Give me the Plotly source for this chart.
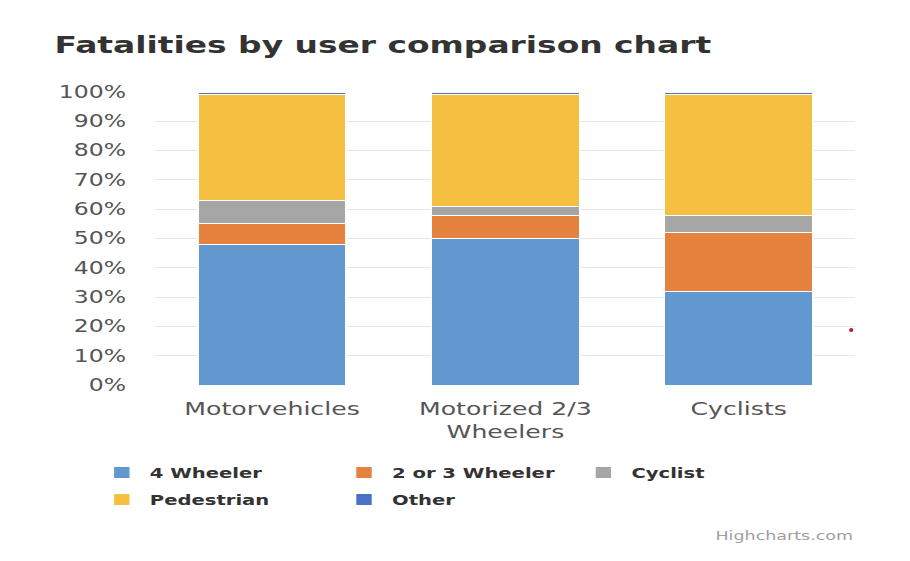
import plotly.graph_objects as go

# Fatality shares (%) by road-user group, per vehicle category
categories = ["Motorvehicles", "Motorized 2/3<br>Wheelers", "Cyclists"]
four_wheeler = [48, 50, 32]
two_three_wheeler = [7, 8, 20]
cyclist = [8, 3, 6]
pedestrian = [36, 38, 41]
other = [1, 1, 1]
y_ticks = list(range(0, 101, 10))
y_tick_labels = [f"{v}%" for v in y_ticks]

FONT = "DejaVu Sans"
W, H = 650, 561
M_L, M_R, M_T, M_B = 111, 39, 92, 176
STRETCH = 1.4  # horizontal stretch applied to the rendered chart
PLOT_W = W - M_L - M_R
PLOT_H = H - M_T - M_B


def paper_x(px):
    """Convert a pixel column (unstretched) into paper x."""
    return (px - M_L) / PLOT_W


def paper_y(px):
    """Convert a pixel row (from top of figure) into paper y."""
    return (H - M_B - px) / PLOT_H


# name, values, colour, legend id, legend column x (px), legend row y (px)
series = [
    ("4 Wheeler", four_wheeler, "#6198D0", "legend", 67, 473),
    ("2 or 3 Wheeler", two_three_wheeler, "#E4823E", "legend2", 240, 473),
    ("Cyclist", cyclist, "#A6A6A6", "legend3", 411, 473),
    ("Pedestrian", pedestrian, "#F5BF42", "legend4", 67, 500),
    ("Other", other, "#4A70C8", "legend5", 240, 500),
]

fig = go.Figure()
legends = {}
for name, vals, color, leg, lx, ly in series:
    fig.add_trace(go.Bar(
        x=categories, y=vals, name=name, legend=leg,
        marker=dict(color=color, line=dict(color="white", width=1)),
    ))
    legends[leg] = dict(
        orientation="h",
        xref="paper", x=paper_x(lx), xanchor="left",
        yref="paper", y=paper_y(ly), yanchor="middle",
        font=dict(family=FONT, size=14, color="#333333", weight="bold"),
        bgcolor="rgba(0,0,0,0)",
    )

fig.update_layout(
    width=W, height=H,
    barmode="stack", barnorm="percent", bargap=0.365,
    paper_bgcolor="white", plot_bgcolor="white",
    margin=dict(l=M_L, r=M_R, t=M_T, b=M_B, autoexpand=False),
    font=dict(family=FONT, color="#555555"),
    title=dict(
        text="Fatalities by user comparison chart",
        font=dict(family=FONT, size=23.5, color="#333333", weight="bold"),
        xref="container", x=39 / W, xanchor="left",
        yref="container", y=1 - 45 / H, yanchor="middle",
    ),
    xaxis=dict(
        showgrid=False, showline=False, zeroline=False,
        tickfont=dict(family=FONT, size=18, color="#555555"),
        ticklabelstandoff=11,
    ),
    yaxis=dict(
        range=[0, 100], tickmode="array",
        tickvals=y_ticks, ticktext=y_tick_labels,
        showgrid=True, gridcolor="#E6E6E6", gridwidth=1,
        zeroline=False, showline=False,
        tickfont=dict(family=FONT, size=16.8, color="#555555"),
        ticklabelstandoff=20,
    ),
    showlegend=True,
    **legends,
)

fig.add_annotation(
    text="Highcharts.com", showarrow=False,
    xref="paper", x=1, xanchor="right",
    yref="paper", y=paper_y(535), yanchor="middle",
    font=dict(family=FONT, size=12.5, color="#A0A0A0"),
)

# small red mark at the right edge of the plot area
fig.add_shape(
    type="circle", xref="paper", yref="paper",
    x0=0.991, x1=0.997, y0=paper_y(332), y1=paper_y(328),
    fillcolor="#B22222", line=dict(width=0),
)

post = (
    "var gd=document.getElementById('{plot_id}');"
    "document.documentElement.style.margin='0';"
    "document.body.style.margin='0';"
    "document.body.style.overflow='hidden';"
    "gd.style.transformOrigin='0 0';"
    "gd.style.transform='scaleX(%s)';" % STRETCH
)

fig.write_html("out.html", post_script=post)
